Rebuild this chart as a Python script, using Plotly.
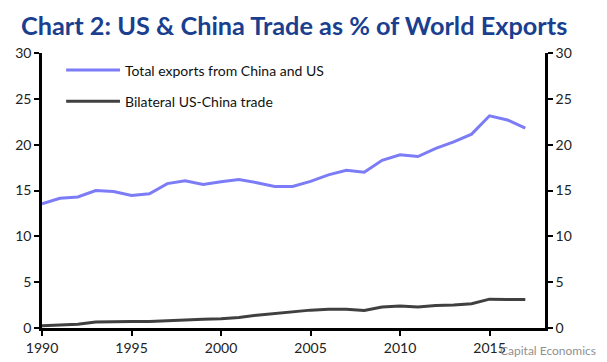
import plotly.graph_objects as go

years = list(range(1990, 2018))
total_exports = [13.55, 14.15, 14.3, 15.0, 14.9, 14.45, 14.65, 15.75, 16.05, 15.65,
                 15.95, 16.2, 15.85, 15.45, 15.45, 16.0, 16.7, 17.2, 17.0, 18.3,
                 18.9, 18.7, 19.6, 20.3, 21.15, 23.15, 22.7, 21.8]
bilateral = [0.25, 0.3, 0.4, 0.65, 0.7, 0.7, 0.7, 0.8, 0.9, 0.95,
             1.0, 1.15, 1.4, 1.6, 1.8, 1.95, 2.05, 2.05, 1.9, 2.3,
             2.4, 2.3, 2.45, 2.5, 2.65, 3.15, 3.1, 3.1]
series_names = ["Total exports from China and US", "Bilateral US-China trade"]
series_colors = ["#7b7cf6", "#404040"]
xticks = [1990, 1995, 2000, 2005, 2010, 2015]
yticks = [0, 5, 10, 15, 20, 25, 30]

fig = go.Figure()
fig.add_trace(go.Scatter(x=years, y=total_exports, mode="lines", name=series_names[0],
                         line=dict(color=series_colors[0], width=3), showlegend=False))
fig.add_trace(go.Scatter(x=years, y=bilateral, mode="lines", name=series_names[1],
                         line=dict(color=series_colors[1], width=3), showlegend=False))
# invisible trace to activate right axis
fig.add_trace(go.Scatter(x=[years[0]], y=[0], yaxis="y2", mode="lines",
                         line=dict(width=0), showlegend=False, hoverinfo="skip"))

tickfont = dict(family="Lato, 'Open Sans', sans-serif", size=14, color="#222222")
common = dict(ticks="outside", ticklen=5, tickwidth=2, tickcolor="black", showline=True,
              linecolor="black", linewidth=2.5, showgrid=False, zeroline=False,
              tickfont=tickfont, automargin=False)
# page body has an 8px margin, so the figure is sized to fit the 607x362 window
fig.update_layout(
    width=599, height=354,
    margin=dict(l=34, r=62, t=45, b=34),
    paper_bgcolor="white", plot_bgcolor="white",
    xaxis=dict(range=[1990, 2018.1], tickvals=xticks, **common),
    yaxis=dict(range=[0, 30], tickvals=yticks, **common),
    yaxis2=dict(range=[0, 30], tickvals=yticks, overlaying="y", side="right", **common),
    showlegend=False,
)

# Title
fig.add_annotation(text="<b>Chart 2: US &amp; China Trade as % of World Exports</b>",
                   xref="paper", yref="paper", x=-0.044, y=1.0, xanchor="left", yanchor="bottom",
                   yshift=12, showarrow=False, borderpad=0,
                   font=dict(family="Lato, 'Open Sans', sans-serif", size=25.3, color="#1b3f8f"))

# Manual legend
leg_y = [0.938, 0.825]
for i in range(2):
    fig.add_shape(type="line", xref="paper", yref="paper", x0=0.048, x1=0.155,
                  y0=leg_y[i], y1=leg_y[i], line=dict(color=series_colors[i], width=3))
    fig.add_annotation(text=series_names[i], xref="paper", yref="paper",
                       x=0.162, y=leg_y[i], xanchor="left", yanchor="middle", showarrow=False,
                       font=dict(family="Lato, 'Open Sans', sans-serif", size=14, color="#111111"))

# Watermark
fig.add_annotation(text="Capital Economics", xref="paper", yref="paper",
                   x=1.105, y=-0.08, xanchor="right", yanchor="middle", showarrow=False,
                   font=dict(family="Lato, sans-serif", size=12, color="#909090"))

fig.write_html("out.html")
